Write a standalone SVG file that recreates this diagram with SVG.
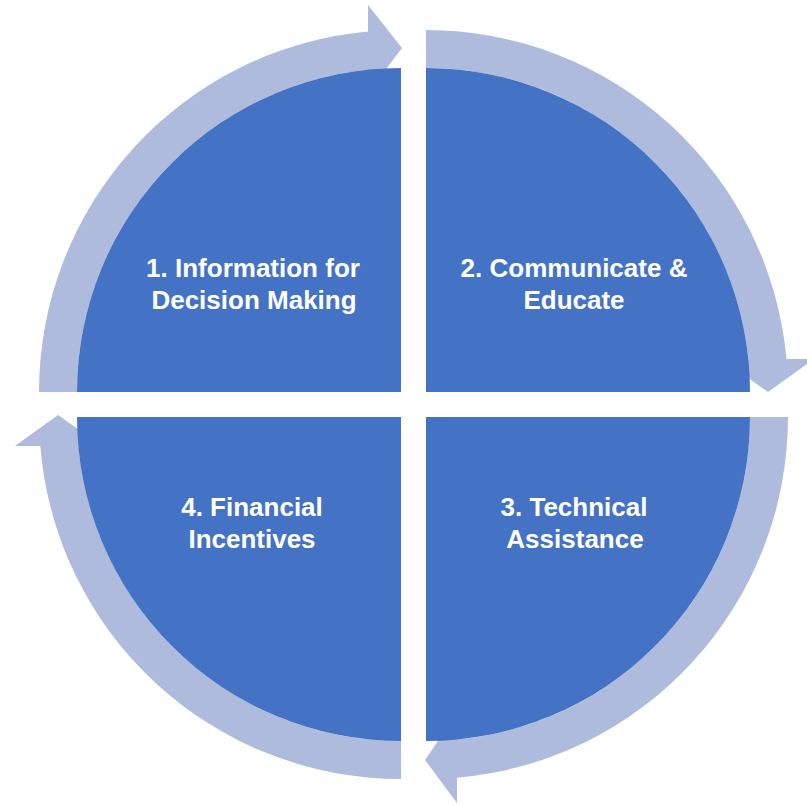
<svg xmlns="http://www.w3.org/2000/svg" width="807" height="805" viewBox="0 0 807 805">
<style>
.q{fill:#4472C4}
.a{fill:#AEBBDD}
.t{fill:#FFFFFF;font-family:"Liberation Sans",Arial,sans-serif;font-weight:bold;font-size:26px;text-anchor:middle}
</style>
<rect width="807" height="805" fill="#FFFFFF"/>
<g id="connectors">
<path class="a" d="M 39,392 A 362 362 0 0 1 368,31.5 L 368,5 L 402,48 L 368,93 L 368,69.7 A 324 324 0 0 0 77,392 Z"/>
<path class="a" d="M 426,30 A 362 362 0 0 1 786.5,359 L 814,359 L 768,392 L 722,359 L 748.3,359 A 324 324 0 0 0 426,68 Z"/>
<path class="a" d="M 788,417 A 362 362 0 0 1 457,777.7 L 457,803 L 425,760 L 457,713 L 457,739.5 A 324 324 0 0 0 750,417 Z"/>
<path class="a" d="M 401,779 A 362 362 0 0 1 40.3,446 L 15,446 L 58,415 L 102,446 L 78.5,446 A 324 324 0 0 0 401,741 Z"/>
</g>
<g id="node1">
<path class="q" d="M 401,392 L 77,392 A 324 324 0 0 1 401,68 Z"/>
<text class="t" x="253" y="277">1. Information for</text>
<text class="t" x="254" y="309">Decision Making</text>
</g>
<g id="node2">
<path class="q" d="M 426,392 L 426,68 A 324 324 0 0 1 750,392 Z"/>
<text class="t" x="574" y="277">2. Communicate &amp;</text>
<text class="t" x="574" y="309">Educate</text>
</g>
<g id="node3">
<path class="q" d="M 426,417 L 750,417 A 324 324 0 0 1 426,741 Z"/>
<text class="t" x="574" y="516">3. Technical</text>
<text class="t" x="575" y="548">Assistance</text>
</g>
<g id="node4">
<path class="q" d="M 401,417 L 401,741 A 324 324 0 0 1 77,417 Z"/>
<text class="t" x="252" y="516">4. Financial</text>
<text class="t" x="252" y="548">Incentives</text>
</g>
</svg>
